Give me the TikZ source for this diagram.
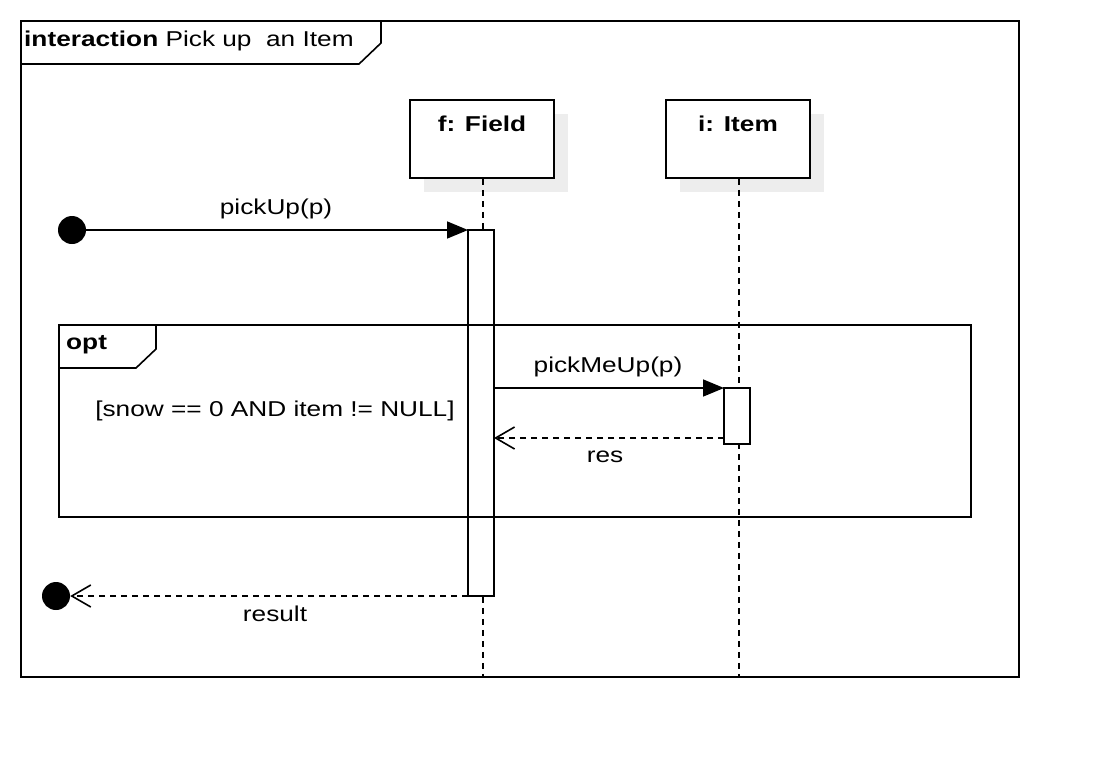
\documentclass[tikz,border=0pt]{standalone}
\usepackage{fontspec}
\setmainfont{Liberation Sans}[FakeStretch=1.22]
\usetikzlibrary{arrows.meta}
\begin{document}
\begin{tikzpicture}[x=1pt,y=-1pt,
  lw/.style={line width=1.6pt},
  lifebox/.style={draw,lw,fill=white,minimum width=144pt,minimum height=78pt,inner sep=0pt},
  shadowbox/.style={fill=black!7,minimum width=144pt,minimum height=78pt,inner sep=0pt,draw=none},
  actbar/.style={draw,lw,fill=white,minimum width=26pt,inner sep=0pt,outer sep=0pt},
  lifeline/.style={lw,dash pattern=on 6.5pt off 4.5pt},
  msg/.style={lw,-{Triangle[length=21pt,width=17pt]}},
  ret/.style={lw,dash pattern=on 6.5pt off 4.5pt,-{Straight Barb[length=19pt,width=22pt,line width=1.6pt]}},
  dot/.style={circle,fill=black,minimum size=28pt,inner sep=0pt},
  lbl/.style={font=\fontsize{21.5}{24}\selectfont,inner sep=0pt},
  blbl/.style={font=\fontsize{21.5}{24}\selectfont\bfseries,inner sep=0pt}]
\useasboundingbox (0,0) rectangle (1098,756);
\fill[white] (0,0) rectangle (1098,756);

% outer interaction frame
\node[draw,lw,minimum width=998pt,minimum height=656pt,inner sep=0pt,anchor=north west] (frame) at (20,20) {};
\draw[lw] (20,64) -- (359,64) -- (381,43) -- (381,20);
\node[lbl,anchor=west] (title) at (24,41) {\textbf{interaction} Pick up\ \ an Item};

% lifeline heads
\node[shadowbox] (fsh) at (496,153) {};
\node[shadowbox] (ish) at (752,153) {};
\node[lifebox] (f) at (482,139) {};
\node[lifebox] (i) at (738,139) {};
\node[blbl] (ft) at (482,124) {f: Field};
\node[blbl] (it) at (738,124) {i: Item};

% lifelines
\coordinate (fend) at (483,676);
\coordinate (iend) at (739,676);
\draw[lifeline] (f.south -| fend) -- (fend);
\draw[lifeline] (i.south -| iend) -- (iend);

% activation bars
\node[actbar,minimum height=366pt,anchor=north] (fa) at (481,230) {};
\node[actbar,minimum height=56pt,anchor=north] (ia) at (737,388) {};

% opt fragment
\node[draw,lw,minimum width=912pt,minimum height=192pt,inner sep=0pt,anchor=north west] (opt) at (58,324) {};
\draw[lw] (58,368) -- (136,368) -- (156,349) -- (156,324);
\node[blbl,anchor=west] (optt) at (66,345) {opt};
\node[lbl] (guard) at (275,411) {[snow == 0 AND item != NULL]};

% messages
\node[dot] (start) at (72,230) {};
\draw[msg] (start.center) -- (start.center -| fa.west);
\node[lbl] (l1) at (276,209) {pickUp(p)};

\draw[msg] (fa.east |- ia.north) -- (ia.north west);
\node[lbl] (l2) at (608,367) {pickMeUp(p)};

\coordinate (resA) at (724,438);
\draw[ret] (resA) -- (resA -| fa.east);
\node[lbl] (l3) at (605,457) {res};

\node[dot] (stop) at (56,596) {};
\draw[ret] (fa.south west) -- (fa.south west -| stop.east);
\node[lbl] (l4) at (275,614) {result};
\end{tikzpicture}
\end{document}
